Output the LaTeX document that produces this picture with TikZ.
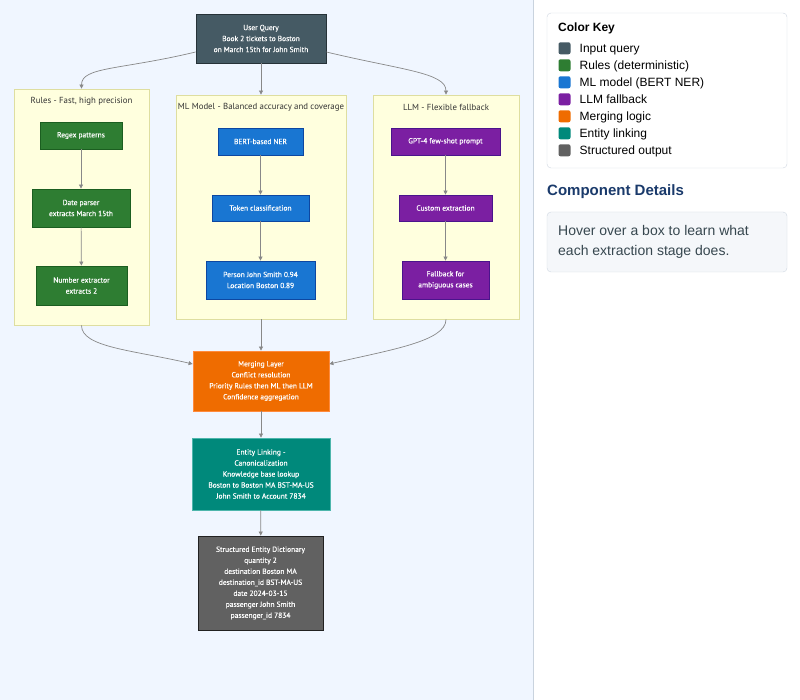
\documentclass[tikz,border=0pt]{standalone}
\usepackage{fontspec}
\setmainfont{Liberation Sans}
\newfontfamily\diagfont{PT Sans}
\newfontfamily\stagefont[FakeBold=0.5]{PT Sans}
\usetikzlibrary{arrows.meta}

% palette of the extraction pipeline
\definecolor{paneBg}{RGB}{240,246,255}
\definecolor{paneLine}{RGB}{201,211,222}
\definecolor{clusterFill}{RGB}{255,255,222}
\definecolor{clusterLine}{RGB}{222,222,160}
\definecolor{titleText}{RGB}{51,51,51}
\definecolor{flowLine}{RGB}{136,136,136}
\definecolor{queryFill}{RGB}{69,90,100}
\definecolor{queryLine}{RGB}{38,50,56}
\definecolor{rulesFill}{RGB}{46,125,50}
\definecolor{rulesLine}{RGB}{27,94,32}
\definecolor{mlFill}{RGB}{25,118,210}
\definecolor{mlLine}{RGB}{13,71,161}
\definecolor{llmFill}{RGB}{123,31,162}
\definecolor{llmLine}{RGB}{74,20,140}
\definecolor{mergeFill}{RGB}{239,108,0}
\definecolor{mergeLine}{RGB}{255,138,60}
\definecolor{linkFill}{RGB}{0,137,123}
\definecolor{linkLine}{RGB}{77,182,172}
\definecolor{outFill}{RGB}{97,97,97}
\definecolor{outLine}{RGB}{33,33,33}
\definecolor{keyLine}{RGB}{208,216,226}
\definecolor{detailsFill}{RGB}{245,247,250}
\definecolor{detailsTitle}{RGB}{26,58,107}
\definecolor{detailsText}{RGB}{55,71,79}

\begin{document}
\begin{tikzpicture}[x=1pt, y=-1pt,
  stage/.style={draw, line width=0.8pt, text=white, align=center, inner sep=0pt,
    font=\stagefont\fontsize{7.5}{11}\selectfont},
  size/.style 2 args={minimum width=#1pt, minimum height=#2pt},
  cluster/.style={draw=clusterLine, fill=clusterFill, line width=0.8pt, inner sep=0pt},
  clustertitle/.style={text=titleText, inner sep=0pt, font=\diagfont\fontsize{8.8}{10}\selectfont},
  flow/.style={draw=flowLine, line width=0.7pt, -{Triangle[length=4pt,width=4pt]}},
  swatch/.style={fill=#1, minimum size=12pt, inner sep=0pt, rounded corners=2pt},
  keytext/.style={anchor=base west, inner sep=0pt, text=black, font=\fontsize{12}{14}\selectfont}]
\useasboundingbox (0,0) rectangle (800,700);
% Panes
\fill[paneBg] (0,0) rectangle (533,700);
\fill[white] (533,0) rectangle (800,700);
\draw[paneLine, line width=1pt] (533,0) -- (533,700);

% Clusters
\node[cluster, size={135}{236}] (rulesbox) at (81.5,207) {};
\node[cluster, size={170}{224}] (mlbox) at (261,207) {};
\node[cluster, size={146}{224}] (llmbox) at (446,207) {};
\node[clustertitle] (rulestitle) at (81.5,101) {Rules - Fast, high precision};
\node[clustertitle] (mltitle) at (261,107) {ML Model - Balanced accuracy and coverage};
\node[clustertitle] (llmtitle) at (446,107) {LLM - Flexible fallback};

% Stages
\node[stage, size={130}{49}, fill=queryFill, draw=queryLine] (query) at (261,38.5)
  {User Query\\Book 2 tickets to Boston\\on March 15th for John Smith};
\node[stage, size={82}{27}, fill=rulesFill, draw=rulesLine] (regex) at (81,135.5) {Regex patterns};
\node[stage, size={98}{38}, fill=rulesFill, draw=rulesLine] (date) at (81,208) {Date parser\\extracts March 15th};
\node[stage, size={91}{39}, fill=rulesFill, draw=rulesLine] (number) at (81.5,285.5) {Number extractor\\extracts 2};
\node[stage, size={85}{27}, fill=mlFill, draw=mlLine] (bert) at (260.5,141.5) {BERT-based NER};
\node[stage, size={97}{26}, fill=mlFill, draw=mlLine] (token) at (260.5,208) {Token classification};
\node[stage, size={109}{38}, fill=mlFill, draw=mlLine] (person) at (260.5,280) {Person John Smith 0.94\\Location Boston 0.89};
\node[stage, size={109}{27}, fill=llmFill, draw=llmLine] (gpt) at (445.5,141.5) {GPT-4 few-shot prompt};
\node[stage, size={93}{26}, fill=llmFill, draw=llmLine] (custom) at (445.5,208) {Custom extraction};
\node[stage, size={87}{38}, fill=llmFill, draw=llmLine] (fallback) at (445.5,280) {Fallback for\\ambiguous cases};
\node[stage, size={136}{60}, fill=mergeFill, draw=mergeLine] (merge) at (261,381)
  {Merging Layer\\Conflict resolution\\Priority Rules then ML then LLM\\Confidence aggregation};
\node[stage, size={138}{72}, fill=linkFill, draw=linkLine] (link) at (261,474)
  {Entity Linking -\\Canonicalization\\Knowledge base lookup\\Boston to Boston MA BST-MA-US\\John Smith to Account 7834};
\node[stage, size={125}{94}, fill=outFill, draw=outLine] (output) at (260.5,583)
  {Structured Entity Dictionary\\quantity 2\\destination Boston MA\\destination\_id BST-MA-US\\date 2024-03-15\\passenger John Smith\\passenger\_id 7834};

% Flows
\draw[flow] ([yshift=-13.5pt]query.west) .. controls +(-75,18) and +(0,-22) .. (rulesbox.north);
\draw[flow] (query) -- (mlbox);
\draw[flow] ([yshift=-13.5pt]query.east) .. controls +(75,18) and +(0,-22) .. (llmbox.north);
\draw[flow] (regex) -- (date);
\draw[flow] (date) -- (number);
\draw[flow] (bert) -- (token);
\draw[flow] (token) -- (person);
\draw[flow] (gpt) -- (custom);
\draw[flow] (custom) -- (fallback);
\draw[flow] (rulesbox.south) .. controls +(0,22) and +(-60,-14) .. ([yshift=17pt]merge.west);
\draw[flow] (mlbox) -- (merge);
\draw[flow] (llmbox.south) .. controls +(0,22) and +(60,-14) .. ([yshift=17pt]merge.east);
\draw[flow] (merge) -- (link);
\draw[flow] (link) -- (output);

% Color key
\draw[keyLine, rounded corners=4pt] (547,13) rectangle (787,168);
\node[anchor=base west, inner sep=0pt, font=\bfseries\fontsize{12}{14}\selectfont] (keytitle) at (558,32) {Color Key};
\foreach \i/\y/\c/\t in {1/48.3/queryFill/Input query, 2/65.3/rulesFill/Rules (deterministic),
    3/82.3/mlFill/ML model (BERT NER), 4/99.3/llmFill/LLM fallback, 5/116.3/mergeFill/Merging logic,
    6/133.3/linkFill/Entity linking, 7/150.3/outFill/Structured output} {
  \node[swatch=\c] (swatch\i) at (564.5,\y) {};
  \node[keytext] (keyitem\i) at (579.5,\y+4.3) {\t};
}

% Component details
\node[anchor=base west, inner sep=0pt, text=detailsTitle, font=\bfseries\fontsize{15}{18}\selectfont] (detailstitle) at (547,195.5) {Component Details};
\draw[keyLine, fill=detailsFill, rounded corners=4pt] (547,212) rectangle (787,272);
\node[anchor=north west, align=left, inner sep=0pt, text=detailsText, font=\fontsize{14}{20}\selectfont] (hint) at (558,225)
  {Hover over a box to learn what\\each extraction stage does.};
\end{tikzpicture}
\end{document}
